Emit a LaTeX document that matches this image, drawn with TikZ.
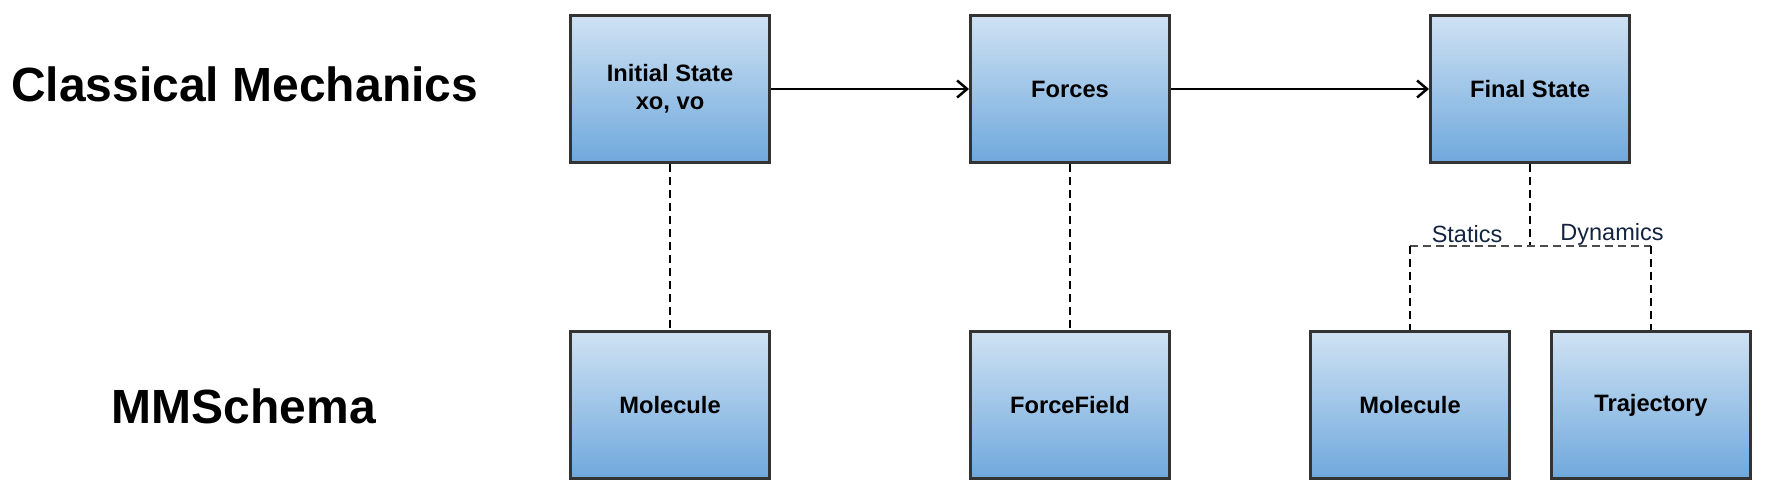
\documentclass[tikz,border=0pt]{standalone}
\usepackage{fontspec}
\setmainfont{Liberation Sans}
\usetikzlibrary{arrows.meta}
\definecolor{boxtop}{RGB}{207,226,243}
\definecolor{boxbot}{RGB}{111,168,220}
\definecolor{boxline}{RGB}{51,51,51}
\definecolor{lbl}{RGB}{20,36,64}
\tikzset{
  mbox/.style={draw=boxline, line width=3pt, top color=boxtop, bottom color=boxbot,
    minimum width=199pt, minimum height=147pt, inner sep=0pt, align=center,
    font=\fontsize{23.7}{28}\selectfont\bfseries},
  flow/.style={line width=2pt, -{Straight Barb[length=10pt,width=17pt,line width=2.5pt]}},
  link/.style={line width=2pt, dash pattern=on 8pt off 5pt},
  glink/.style={line width=2pt, draw=black!70, dash pattern=on 8pt off 5pt},
  title/.style={font=\fontsize{48}{54}\selectfont\bfseries},
  brlabel/.style={text=lbl, font=\fontsize{23.5}{27}\selectfont, inner sep=0pt}
}
\begin{document}
\begin{tikzpicture}[x=1pt,y=-1pt]
\useasboundingbox (0,0) rectangle (1771,493);
\node[title, anchor=west, inner sep=0pt] (cm) at (11,84) {Classical Mechanics};
\node[title] (mms) at (244,406) {MMSchema};

\node[mbox] (init) at (670,89) {Initial State\\xo, vo};
\node[mbox] (forces) at (1070,89) {Forces};
\node[mbox] (final) at (1530,89) {Final State};

\node[mbox] (mol) at (670,405) {Molecule};
\node[mbox] (ff) at (1070,405) {ForceField};
\node[mbox] (mol2) at (1410,405) {Molecule};
\node[mbox] (traj) at (1651,405) {Trajectory};

\draw[flow] (init.east) -- (forces.west);
\draw[flow] (forces.east) -- (final.west);

\draw[link] (init.south) -- (mol.north);
\draw[link] (forces.south) -- (ff.north);

\coordinate (br) at (1530,246);
\coordinate (brl) at (1410,246);
\coordinate (brr) at (1651,246);
\draw[link] (final.south) -- (br);
\draw[glink] (brl) -- (brr);
\draw[link] (brl) -- (mol2.north);
\draw[link] (brr) -- (traj.north);

\node[brlabel] (st) at (1467,234) {Statics};
\node[brlabel] (dy) at (1612,234) {Dynamics};
\end{tikzpicture}
\end{document}
